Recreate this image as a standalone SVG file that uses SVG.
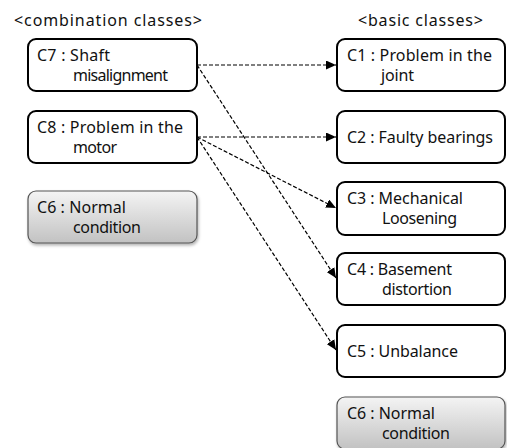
<svg xmlns="http://www.w3.org/2000/svg" width="507" height="448" viewBox="0 0 507 448">
<defs>
<linearGradient id="gray" x1="0" y1="0" x2="0" y2="1">
<stop offset="0" stop-color="#f4f4f4"/>
<stop offset="1" stop-color="#c2c2c2"/>
</linearGradient>
<filter id="sh" x="-10%" y="-10%" width="130%" height="140%">
<feDropShadow dx="1" dy="2" stdDeviation="1.5" flood-color="#000" flood-opacity="0.3"/>
</filter>
<marker id="ah" viewBox="0 0 10 10" refX="10" refY="5" markerWidth="10" markerHeight="9" markerUnits="userSpaceOnUse" orient="auto" preserveAspectRatio="none">
<path d="M0,0 L10,5 L0,10 z" fill="#000"/>
</marker>
</defs>
<style>
text{font-family:"Noto Sans","Liberation Sans",sans-serif;font-size:16px;fill:#111}
.box{fill:#fff;stroke:#000;stroke-width:2}
.gbox{fill:url(#gray);stroke:#555;stroke-width:1.2;filter:url(#sh)}
.conn{stroke:#000;stroke-width:1.2;stroke-dasharray:4 2;fill:none;marker-end:url(#ah)}
</style>
<text x="14" y="26" textLength="188" lengthAdjust="spacing">&lt;combination classes&gt;</text>
<text x="358" y="26" textLength="125" lengthAdjust="spacing">&lt;basic classes&gt;</text>
<g id="c7">
<rect class="box" x="28" y="39" width="169" height="52" rx="8"/>
<text x="37" y="61" textLength="73" lengthAdjust="spacing">C7 : Shaft</text>
<text x="73" y="81" textLength="95" lengthAdjust="spacing">misalignment</text>
</g>
<g id="c8">
<rect class="box" x="28" y="111" width="169" height="52" rx="8"/>
<text x="37" y="133" textLength="146" lengthAdjust="spacing">C8 : Problem in the</text>
<text x="73" y="153" textLength="44" lengthAdjust="spacing">motor</text>
</g>
<g id="c6-left">
<rect class="gbox" x="28" y="191" width="169" height="52" rx="8"/>
<text x="37" y="213" textLength="89" lengthAdjust="spacing">C6 : Normal</text>
<text x="73" y="233" textLength="68" lengthAdjust="spacing">condition</text>
</g>
<g id="c1">
<rect class="box" x="337" y="39" width="168" height="52" rx="8"/>
<text x="347" y="61" textLength="145" lengthAdjust="spacing">C1 : Problem in the</text>
<text x="381" y="81" textLength="33" lengthAdjust="spacing">joint</text>
</g>
<g id="c2">
<rect class="box" x="337" y="111" width="168" height="52" rx="8"/>
<text x="347" y="143" textLength="146" lengthAdjust="spacing">C2 : Faulty bearings</text>
</g>
<g id="c3">
<rect class="box" x="337" y="182" width="168" height="53" rx="8"/>
<text x="347" y="204" textLength="116" lengthAdjust="spacing">C3 : Mechanical</text>
<text x="382" y="224" textLength="75" lengthAdjust="spacing">Loosening</text>
</g>
<g id="c4">
<rect class="box" x="337" y="253" width="168" height="52" rx="8"/>
<text x="347" y="275" textLength="105" lengthAdjust="spacing">C4 : Basement</text>
<text x="382" y="295" textLength="70" lengthAdjust="spacing">distortion</text>
</g>
<g id="c5">
<rect class="box" x="337" y="325" width="168" height="52" rx="8"/>
<text x="347" y="357" textLength="111" lengthAdjust="spacing">C5 : Unbalance</text>
</g>
<g id="c6-right">
<rect class="gbox" x="337" y="397" width="168" height="52" rx="8"/>
<text x="347" y="419" textLength="88" lengthAdjust="spacing">C6 : Normal</text>
<text x="382" y="439" textLength="68" lengthAdjust="spacing">condition</text>
</g>
<g id="connectors">
<line class="conn" x1="197" y1="65" x2="336" y2="65"/>
<line class="conn" x1="197" y1="65" x2="336" y2="278"/>
<line class="conn" x1="197" y1="137" x2="336" y2="137"/>
<line class="conn" x1="197" y1="137" x2="336" y2="208"/>
<line class="conn" x1="197" y1="137" x2="336" y2="350"/>
</g>
</svg>
